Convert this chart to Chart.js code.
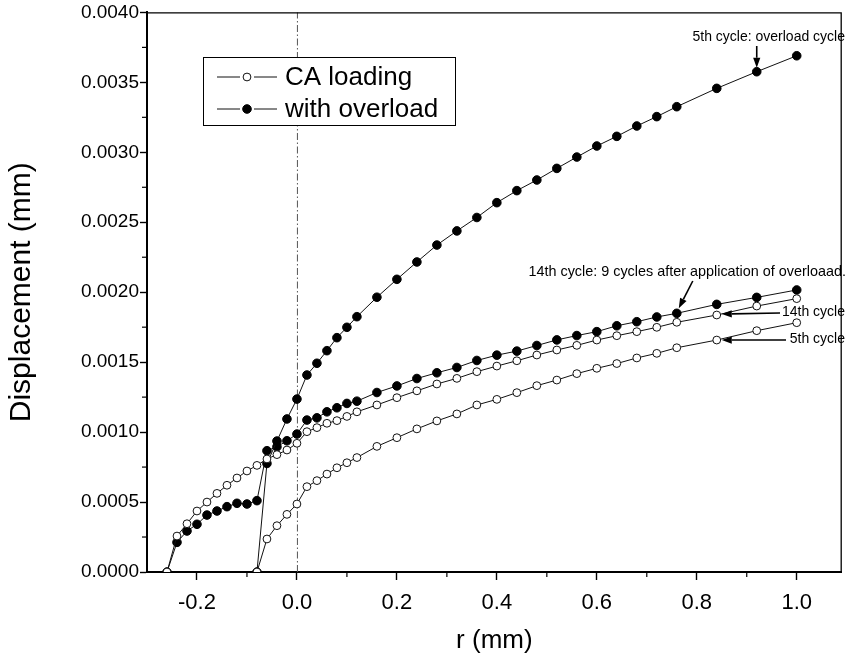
<!DOCTYPE html>
<html>
<head>
<meta charset="utf-8">
<script src="https://cdn.jsdelivr.net/npm/chart.js@4/dist/chart.umd.min.js"></script>
<style>
html,body{margin:0;padding:0;background:#fff;}
#wrap{width:847px;height:662px;}
</style>
</head>
<body>
<div id="wrap"><canvas id="c" width="847" height="662"></canvas></div>
<script>
// ---------- data ----------
// r positions (mm) for the curves that start at r = -0.26 (14th cycle)
const r14 = [-0.26,-0.24,-0.22,-0.20,-0.18,-0.16,-0.14,-0.12,-0.10,-0.08,
             -0.06,-0.04,-0.02,0.00,0.02,0.04,0.06,0.08,0.10,0.12,
             0.16,0.20,0.24,0.28,0.32,0.36,0.40,0.44,0.48,0.52,0.56,0.60,0.64,0.68,0.72,0.76,
             0.84,0.92,1.00];
// r positions (mm) for the curves that start at r = -0.08 (5th cycle)
const r5 = [-0.08,-0.06,-0.04,-0.02,0.00,0.02,0.04,0.06,0.08,0.10,0.12,
            0.16,0.20,0.24,0.28,0.32,0.36,0.40,0.44,0.48,0.52,0.56,0.60,0.64,0.68,0.72,0.76,
            0.84,0.92,1.00];

// CA loading, 14th cycle (open circles, upper)
const caCycle14 = [0,0.000257,0.000345,0.000436,0.000500,0.000562,0.000620,0.000672,0.000722,0.000762,
                   0.000808,0.000839,0.000872,0.000920,0.001003,0.001032,0.001063,0.001082,0.001112,0.001145,
                   0.001194,0.001246,0.001295,0.001344,0.001384,0.001432,0.001472,0.001510,0.001551,0.001587,0.001620,
                   0.001658,0.001689,0.001718,0.001749,0.001785,0.001837,0.001901,0.001954];
// CA loading, 5th cycle (open circles, lower)
const caCycle5 = [0,0.000236,0.000331,0.000412,0.000486,0.000610,0.000653,0.000700,0.000745,0.000781,0.000818,
                  0.000898,0.000960,0.001023,0.001080,0.001130,0.001194,0.001234,0.001282,0.001332,0.001372,
                  0.001418,0.001456,0.001490,0.001530,0.001563,0.001603,0.001658,0.001725,0.001782];
// with overload, 5th cycle = overload cycle (filled, top)
const olCycle5 = [0,0.000776,0.000936,0.001094,0.001236,0.001408,0.001492,0.001582,0.001675,0.001749,0.001825,
                  0.001964,0.002092,0.002216,0.002337,0.002438,0.002534,0.002640,0.002726,0.002802,0.002885,
                  0.002966,0.003045,0.003114,0.003188,0.003255,0.003326,0.003457,0.003576,0.003690];
// with overload, 14th cycle (filled, lower)
const olCycle14 = [0,0.000212,0.000293,0.000341,0.000407,0.000436,0.000467,0.000491,0.000486,0.000510,
                   0.000867,0.000895,0.000938,0.000986,0.001086,0.001102,0.001145,0.001174,0.001205,0.001221,
                   0.001283,0.001330,0.001383,0.001424,0.001462,0.001512,0.001550,0.001579,0.001619,0.001659,0.001690,
                   0.001718,0.001760,0.001789,0.001823,0.001849,0.001913,0.001963,0.002016];

const seriesLabels = ['CA loading','with overload'];
const xTicks = [-0.2,0.0,0.2,0.4,0.6,0.8,1.0];
const yTicks = [0,0.0005,0.0010,0.0015,0.0020,0.0025,0.0030,0.0035,0.0040];
const xMinor = [-0.1,0.1,0.3,0.5,0.7,0.9];
const yMinor = [0.00025,0.00075,0.00125,0.00175,0.00225,0.00275,0.00325,0.00375];
const xTitle = 'r (mm)';
const yTitle = 'Displacement (mm)';

const annotationTexts = {
  ol5: '5th cycle: overload cycle',
  ol14: '14th cycle: 9 cycles after application of overloaad.',
  ca14: '14th cycle',
  ca5: '5th cycle'
};
const annotationAt = { ol5: 0.92, ol14: 0.76, ca14: 0.84, ca5: 0.84 };

// ---------- build ----------
const pts = (xs, ys) => xs.map((x, i) => ({x: x, y: ys[i]}));
const LINE = '#111';
const openStyle = {pointStyle:'circle', pointRadius:3.9, pointBackgroundColor:'#fff', pointBorderColor:'#111', pointBorderWidth:1};
const fillStyle = {pointStyle:'circle', pointRadius:4.3, pointBackgroundColor:'#000', pointBorderColor:'#000', pointBorderWidth:1};

const datasets = [
  Object.assign({key:'ca14', label:seriesLabels[0], data:pts(r14, caCycle14), borderColor:LINE, borderWidth:1}, openStyle),
  Object.assign({key:'ca5',  label:seriesLabels[0], data:pts(r5, caCycle5),  borderColor:LINE, borderWidth:1}, openStyle),
  Object.assign({key:'ol5',  label:seriesLabels[1], data:pts(r5, olCycle5),  borderColor:LINE, borderWidth:1}, fillStyle),
  Object.assign({key:'ol14', label:seriesLabels[1], data:pts(r14, olCycle14), borderColor:LINE, borderWidth:1}, fillStyle)
];

function drawArrow(ctx, x1, y1, x2, y2) {
  const ang = Math.atan2(y2 - y1, x2 - x1);
  const hl = 10, hw = 3.6;
  const bx = x2 - hl * Math.cos(ang), by = y2 - hl * Math.sin(ang);
  ctx.beginPath();
  ctx.moveTo(x1, y1); ctx.lineTo(bx, by);
  ctx.lineWidth = 1.6; ctx.strokeStyle = '#000'; ctx.stroke();
  ctx.beginPath();
  ctx.moveTo(x2, y2);
  ctx.lineTo(bx + hw * Math.sin(ang), by - hw * Math.cos(ang));
  ctx.lineTo(bx - hw * Math.sin(ang), by + hw * Math.cos(ang));
  ctx.closePath(); ctx.fillStyle = '#000'; ctx.fill();
}

const decor = {
  id: 'decor',
  beforeDatasetsDraw(chart) {
    const {ctx, chartArea: a, scales: {x, y}} = chart;
    ctx.save();
    // dash-dot line at r = 0
    const x0 = x.getPixelForValue(0);
    ctx.setLineDash([7, 2.5, 1.5, 2.5]);
    ctx.strokeStyle = '#555'; ctx.lineWidth = 1;
    ctx.beginPath(); ctx.moveTo(x0 + 0.5, a.bottom); ctx.lineTo(x0 + 0.5, a.top); ctx.stroke();
    ctx.setLineDash([]);
    // minor ticks
    ctx.strokeStyle = '#000'; ctx.lineWidth = 1.2;
    xMinor.forEach(v => { const p = x.getPixelForValue(v);
      ctx.beginPath(); ctx.moveTo(p, a.bottom); ctx.lineTo(p, a.bottom + 5); ctx.stroke(); });
    yMinor.forEach(v => { const p = y.getPixelForValue(v);
      ctx.beginPath(); ctx.moveTo(a.left, p); ctx.lineTo(a.left - 5, p); ctx.stroke(); });
    // frame (top/right)
    ctx.lineWidth = 1.3;
    ctx.beginPath();
    ctx.moveTo(a.left, a.top + 0.5); ctx.lineTo(a.right - 0.5, a.top + 0.5); ctx.lineTo(a.right - 0.5, a.bottom);
    ctx.stroke();
    ctx.restore();
  },
  afterDatasetsDraw(chart) {
    const {ctx, scales: {x, y}} = chart;
    const target = key => {
      const ds = chart.data.datasets.find(d => d.key === key);
      const p = ds.data.find(q => Math.abs(q.x - annotationAt[key]) < 1e-9);
      return {px: x.getPixelForValue(p.x), py: y.getPixelForValue(p.y)};
    };
    ctx.save();
    ctx.fillStyle = '#000';
    ctx.font = '14px "Liberation Sans", Arial, sans-serif';
    ctx.textBaseline = 'middle';
    ctx.textAlign = 'right';
    // 5th cycle: overload cycle
    let t = target('ol5');
    ctx.fillText(annotationTexts.ol5, 845, 37);
    drawArrow(ctx, t.px, 46, t.px, t.py - 4);
    // 14th cycle: 9 cycles after ...
    t = target('ol14');
    ctx.font = '14.4px "Liberation Sans", Arial, sans-serif';
    ctx.fillText(annotationTexts.ol14, 846, 272);
    drawArrow(ctx, t.px + 16, 281, t.px + 2, t.py - 5);
    ctx.font = '14px "Liberation Sans", Arial, sans-serif';
    // 14th cycle (CA)
    t = target('ca14');
    ctx.fillText(annotationTexts.ca14, 845, 312);
    drawArrow(ctx, 780, t.py - 2, t.px + 5, t.py - 1);
    // 5th cycle (CA)
    t = target('ca5');
    ctx.fillText(annotationTexts.ca5, 845, 339);
    drawArrow(ctx, 786, t.py, t.px + 5, t.py);

    // legend box
    const lx = 203.5, ly = 57.5, lw = 252, lh = 68;
    ctx.fillStyle = '#fff';
    ctx.fillRect(lx, ly, lw, lh);
    ctx.strokeStyle = '#000'; ctx.lineWidth = 1;
    ctx.strokeRect(lx, ly, lw, lh);
    const rows = [];
    chart.data.datasets.forEach(d => { if (!rows.find(r => r.label === d.label)) rows.push(d); });
    rows.forEach((d, i) => {
      const cy = 77 + i * 32;
      ctx.strokeStyle = LINE; ctx.lineWidth = 1;
      ctx.beginPath(); ctx.moveTo(217, cy); ctx.lineTo(240, cy); ctx.moveTo(254, cy); ctx.lineTo(277, cy); ctx.stroke();
      ctx.beginPath(); ctx.arc(247, cy, d.pointRadius, 0, Math.PI * 2);
      ctx.fillStyle = d.pointBackgroundColor; ctx.fill();
      ctx.strokeStyle = d.pointBorderColor; ctx.stroke();
      ctx.fillStyle = '#000';
      ctx.textAlign = 'left'; ctx.textBaseline = 'middle';
      ctx.font = '26px "Liberation Sans", Arial, sans-serif';
      ctx.fillText(d.label, 285, cy + 1);
    });
    ctx.restore();
  }
};

Chart.defaults.font.family = '"Liberation Sans", Arial, sans-serif';
Chart.defaults.color = '#000';

new Chart(document.getElementById('c'), {
  type: 'line',
  data: { datasets: datasets },
  options: {
    responsive: false,
    animation: false,
    devicePixelRatio: 1,
    layout: { padding: { top: 12, right: 1, left: 0, bottom: 0 } },
    plugins: { legend: { display: false }, tooltip: { enabled: false } },
    elements: { line: { tension: 0 } },
    scales: {
      x: {
        type: 'linear', min: -0.3, max: 1.09,
        afterFit: s => { s.height = 90; },
        afterBuildTicks: s => { s.ticks = xTicks.map(v => ({value: v})); },
        ticks: { callback: v => Number(v).toFixed(1), font: { size: 22 }, padding: 10, maxRotation: 0, autoSkip: false, color: '#000' },
        grid: { drawOnChartArea: false, drawTicks: true, tickLength: 8, tickColor: '#000', tickWidth: 1.4 },
        border: { display: true, color: '#000', width: 2 },
        title: { display: true, text: xTitle, font: { size: 26 }, padding: { top: 4, bottom: 6 }, color: '#000' }
      },
      y: {
        type: 'linear', min: 0, max: 0.004,
        afterFit: s => { s.width = 147; },
        afterBuildTicks: s => { s.ticks = yTicks.map(v => ({value: v})); },
        ticks: { callback: v => Number(v).toFixed(4), font: { size: 19 }, padding: 1, autoSkip: false, color: '#000' },
        grid: { drawOnChartArea: false, drawTicks: true, tickLength: 7, tickColor: '#000', tickWidth: 1.4 },
        border: { display: true, color: '#000', width: 2 },
        title: { display: true, text: yTitle, font: { size: 30 }, padding: { top: 4, bottom: 4 }, color: '#000' }
      }
    }
  },
  plugins: [decor]
});
</script>
</body>
</html>
